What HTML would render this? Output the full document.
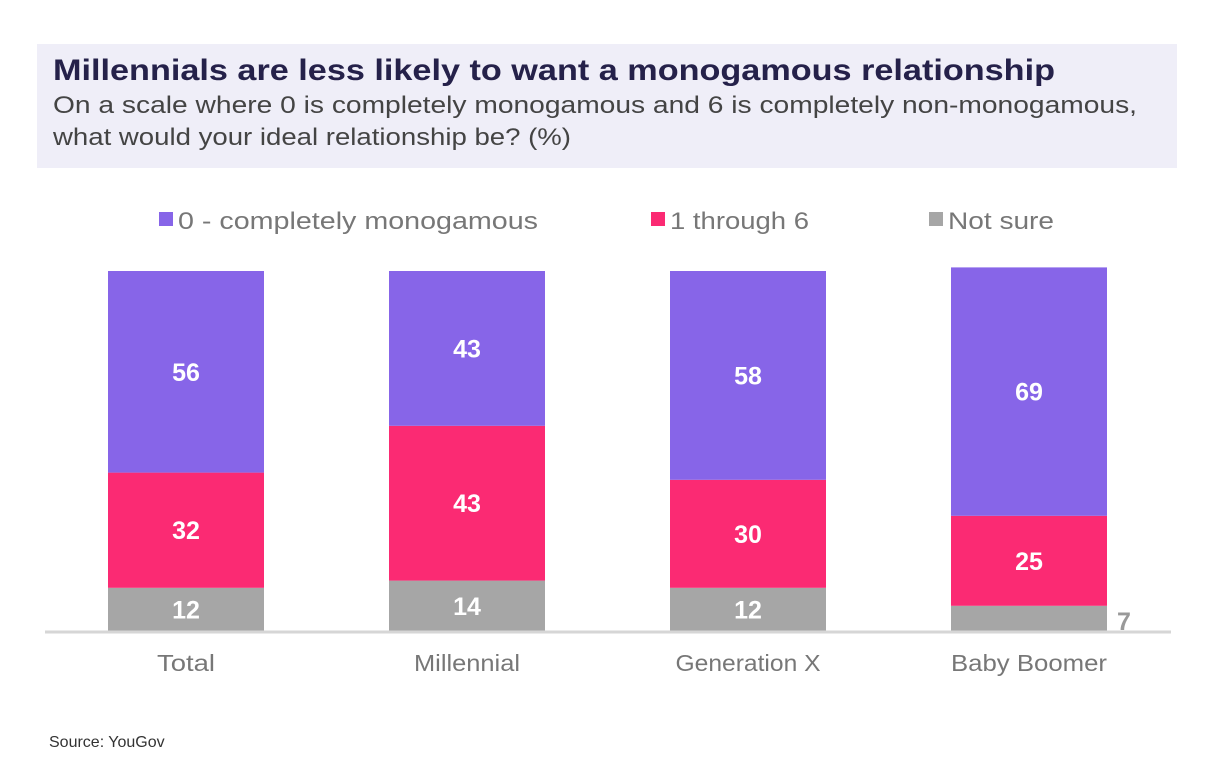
<!DOCTYPE html>
<html><head><meta charset="utf-8"><style>
body{margin:0;background:#fff;width:1219px;height:778px;overflow:hidden;font-family:"Liberation Sans",sans-serif}
</style></head><body>
<svg id="chart" width="1219" height="778" xmlns="http://www.w3.org/2000/svg">
<rect x="37" y="44" width="1140" height="124" fill="#efeef8"/>
<text x="53" y="80" font-size="30" font-weight="bold" fill="#25214a" textLength="1002" lengthAdjust="spacingAndGlyphs">Millennials are less likely to want a monogamous relationship</text>
<text x="53" y="113" font-size="24" fill="#444" textLength="1084" lengthAdjust="spacingAndGlyphs">On a scale where 0 is completely monogamous and 6 is completely non-monogamous,</text>
<text x="53" y="145" font-size="24" fill="#444" textLength="518" lengthAdjust="spacingAndGlyphs">what would your ideal relationship be? (%)</text>
<g>
<rect x="159" y="212" width="14" height="14" fill="#8765e8"/>
<text x="178" y="229" font-size="24" fill="#777" textLength="360" lengthAdjust="spacingAndGlyphs">0 - completely monogamous</text>
<rect x="651" y="212" width="14" height="14" fill="#fb2a73"/>
<text x="670" y="229" font-size="24" fill="#777" textLength="139" lengthAdjust="spacingAndGlyphs">1 through 6</text>
<rect x="929" y="212" width="14" height="14" fill="#a6a6a6"/>
<text x="948" y="229" font-size="24" fill="#777" textLength="106" lengthAdjust="spacingAndGlyphs">Not sure</text>
</g>
<g id="bars"></g>
<line x1="45" y1="632" x2="1171" y2="632" stroke="#d6d6d6" stroke-width="3"/>
<text x="49" y="747" font-size="16" fill="#333">Source: YouGov</text>
</svg>
<script>
const categories=["Total","Millennial","Generation X","Baby Boomer"];
const monogamous=[56,43,58,69];
const oneToSix=[32,43,30,25];
const notSure=[12,14,12,7];
const labelWidths=[58,106,145,156];
const seriesNames=["not-sure","1-6","monogamous"];
const colors=["#a6a6a6","#fb2a73","#8765e8"];
const NS="http://www.w3.org/2000/svg";
const g=document.getElementById('bars');
const baseY=631, unit=3.6, barW=156;
function xPos(i){return 108+i*281;}
function yScale(v){return v*unit;}
categories.forEach((c,i)=>{
  const vals=[notSure[i],oneToSix[i],monogamous[i]];
  let y=baseY;
  vals.forEach((v,k)=>{
    const h=yScale(v);
    const r=document.createElementNS(NS,'rect');
    
    
    r.setAttribute('x',xPos(i));r.setAttribute('y',y-h);r.setAttribute('width',barW);r.setAttribute('height',h);
    r.setAttribute('fill',colors[k]);g.appendChild(r);
    const t=document.createElementNS(NS,'text');
    
    
    t.setAttribute('font-size','25');t.setAttribute('font-weight','bold');
    if(v<10){t.setAttribute('x',xPos(i)+barW+10);t.setAttribute('y',baseY-1);t.setAttribute('fill','#999');}
    else{t.setAttribute('x',xPos(i)+barW/2);t.setAttribute('y',y-h/2+9);t.setAttribute('text-anchor','middle');t.setAttribute('fill','#fff');}
    t.textContent=v;g.appendChild(t);
    y-=h;
  });
  const l=document.createElementNS(NS,'text');
  
  
  l.setAttribute('x',xPos(i)+barW/2);l.setAttribute('y',671);l.setAttribute('text-anchor','middle');
  l.setAttribute('font-size','23');l.setAttribute('fill','#777');
  l.setAttribute('textLength',labelWidths[i]);l.setAttribute('lengthAdjust','spacingAndGlyphs');
  l.textContent=c;g.appendChild(l);
});
</script>
</body></html>
